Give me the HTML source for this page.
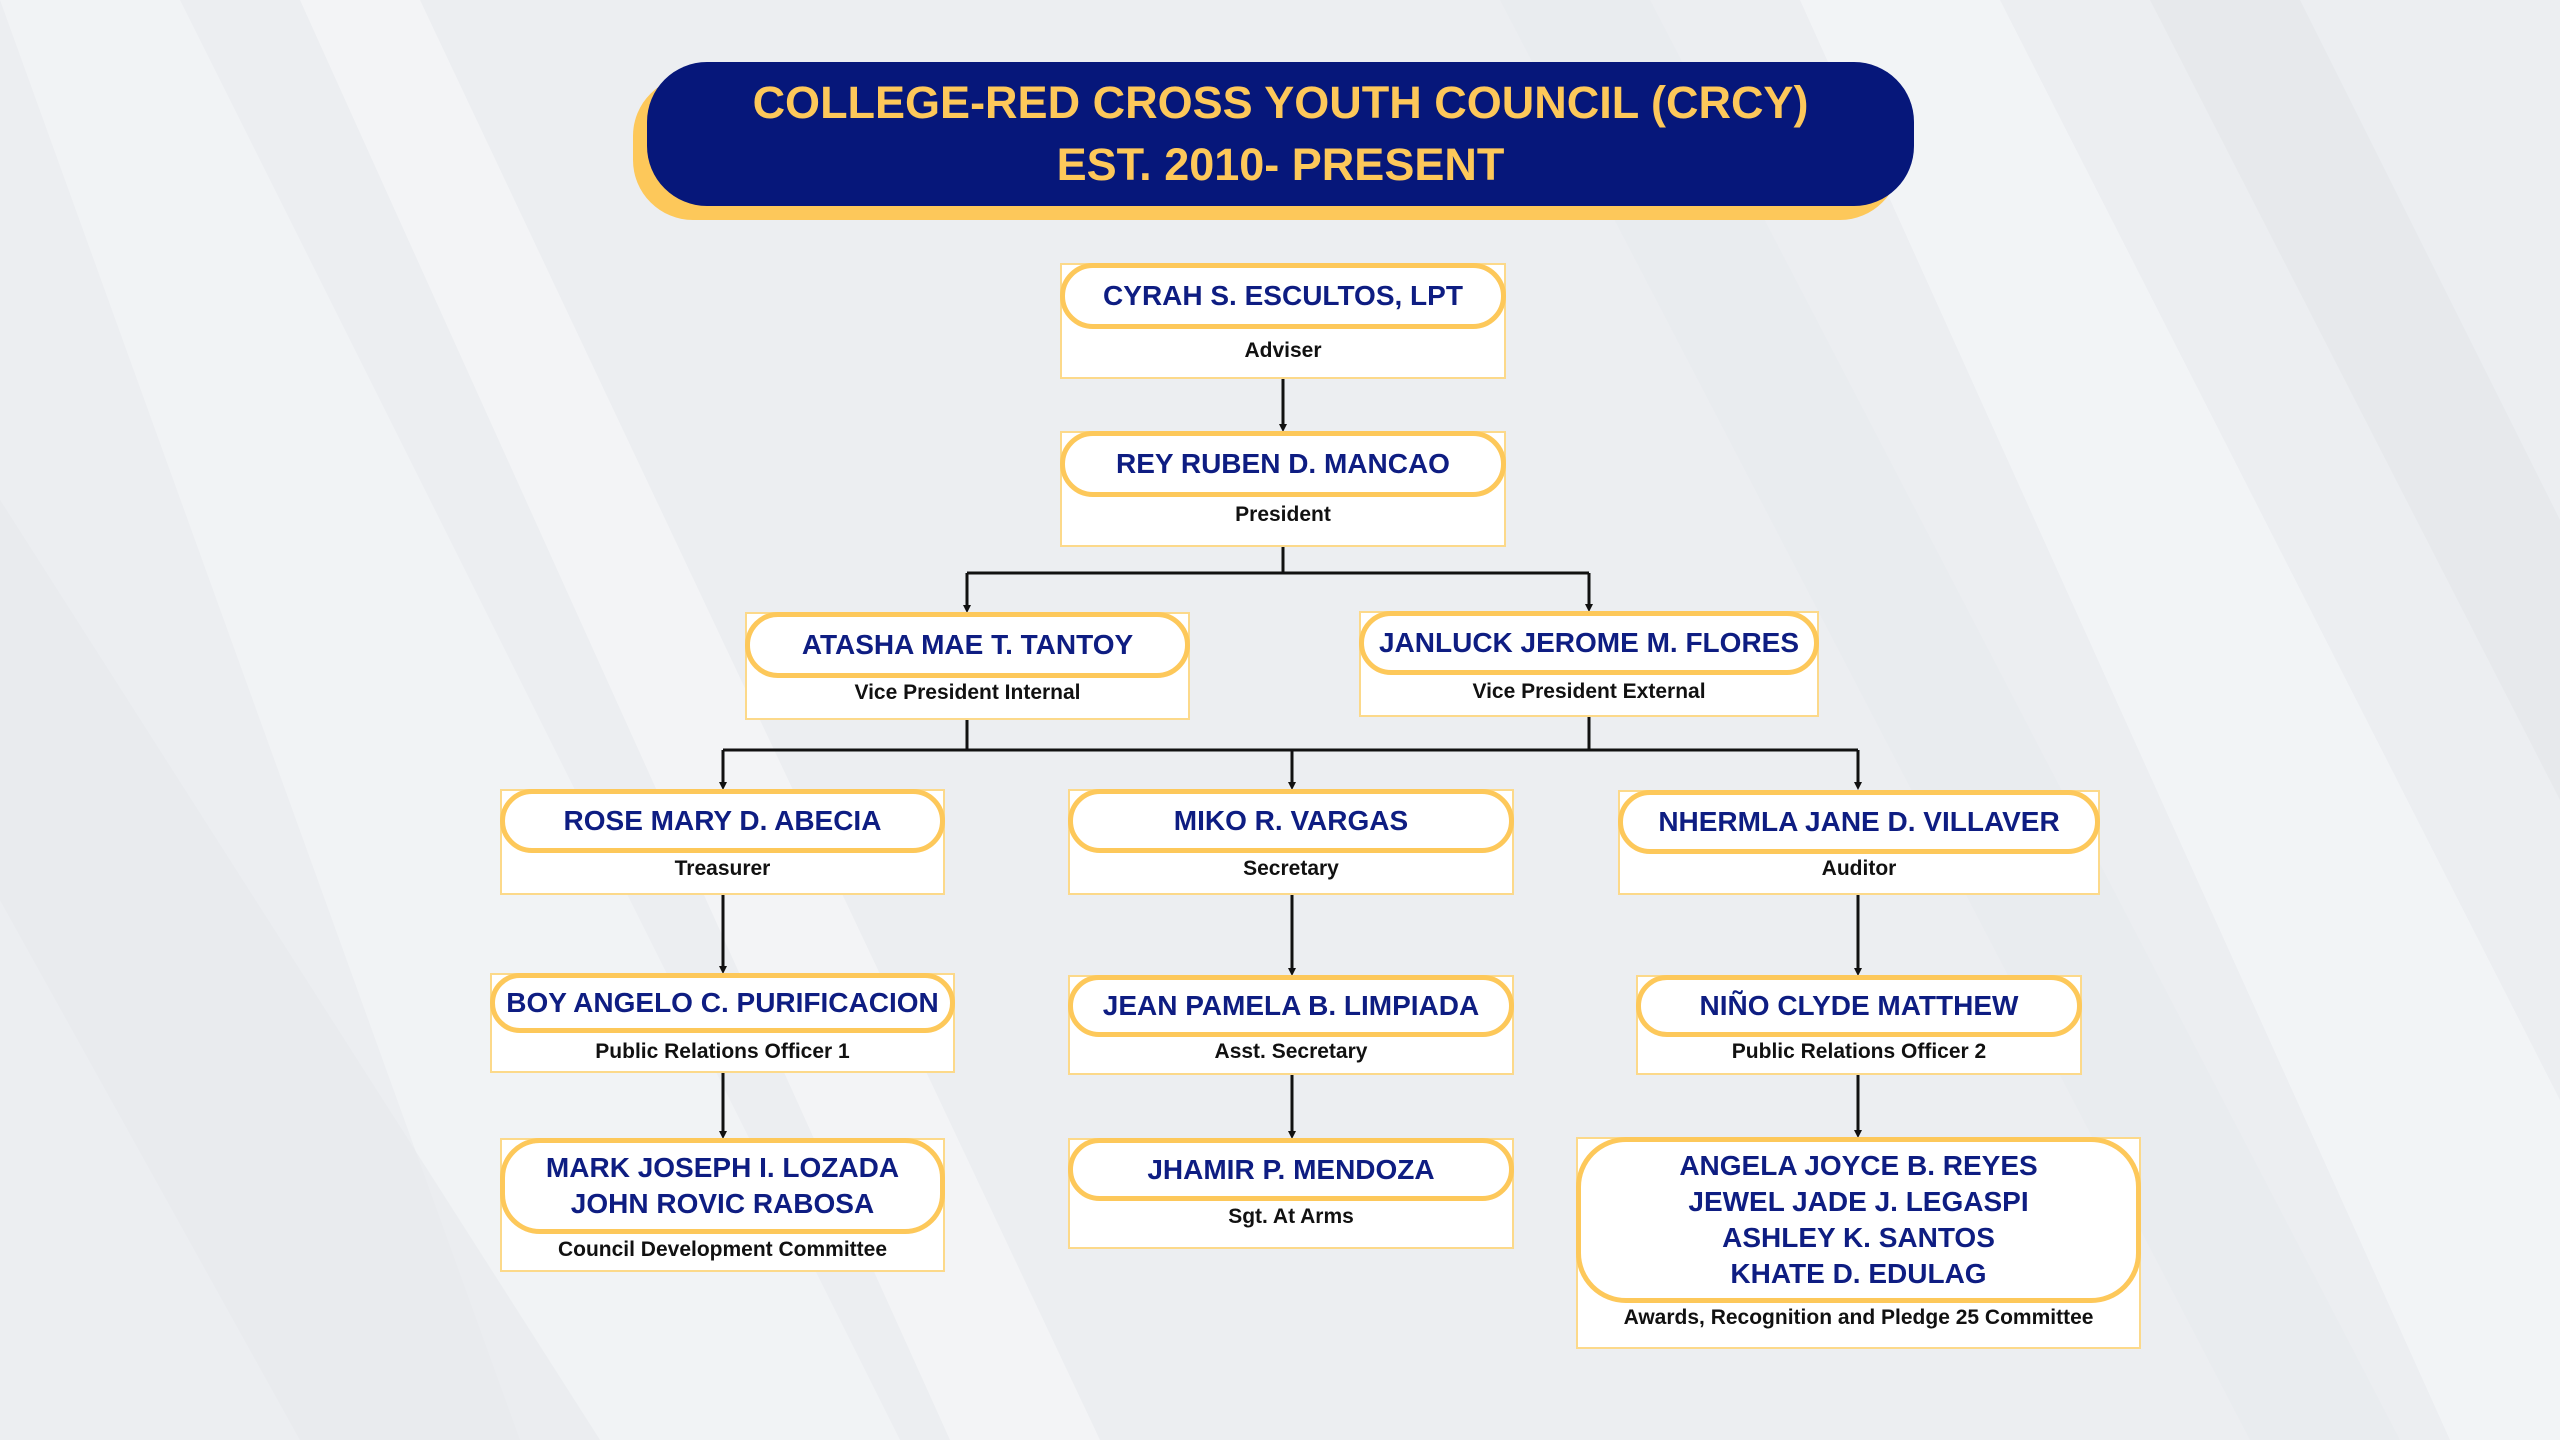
<!DOCTYPE html>
<html><head><meta charset="utf-8"><style>
*{margin:0;padding:0;box-sizing:border-box}
body{width:2560px;height:1440px;position:relative;overflow:hidden;background:#eceef1;font-family:"Liberation Sans",sans-serif}
.bg{position:absolute;left:0;top:0}
.r{position:absolute;background:#fff;border:2px solid #fcd98a}
.p{position:absolute;left:-2px;right:-2px;top:-2px;background:#fff;border:5px solid #fdc85a;border-radius:40px;display:flex;flex-direction:column;align-items:center;justify-content:center;color:#0e1d82;font-weight:bold;font-size:28px;line-height:36px;text-align:center;white-space:nowrap}
.role{position:absolute;left:0;right:0;text-align:center;font-weight:bold;font-size:21px;color:#111;white-space:nowrap;line-height:24px}
.title{position:absolute;left:647px;top:62px;width:1267px;height:144px;background:#06177a;border-radius:60px;color:#fdc85a;font-weight:bold;font-size:45px;text-align:center;line-height:62px;padding-top:10px;box-shadow:-14px 14px 0 #fdc85a}
svg.c{position:absolute;left:0;top:0}
</style></head><body>
<svg class="bg" width="2560" height="1440">
<polygon points="0,0 180,0 900,1440 520,1440" fill="#f3f4f6" opacity=".8"/>
<polygon points="300,0 420,0 1100,1440 950,1440" fill="#f6f7f8" opacity=".7"/>
<polygon points="1800,0 2000,0 2560,1100 2560,1440 2450,1440" fill="#f4f5f7" opacity=".8"/>
<polygon points="2150,0 2300,0 2560,520 2560,800" fill="#e4e6ea" opacity=".6"/>
<polygon points="0,500 0,900 300,1440 600,1440" fill="#e6e8ec" opacity=".5"/>
<polygon points="1500,0 1650,0 2400,1440 2250,1440" fill="#e7e9ed" opacity=".4"/>
</svg>
<div class="title">COLLEGE-RED CROSS YOUTH COUNCIL (CRCY)<br>EST. 2010- PRESENT</div>

<svg class="c" width="2560" height="1440" fill="none" stroke="#111" stroke-width="3">
<defs><marker id="a" markerWidth="8" markerHeight="8" refX="4" refY="4" orient="auto" markerUnits="userSpaceOnUse"><path d="M0,0 L8,4 L0,8z" fill="#111" stroke="none"/></marker></defs>
<line x1="1283" y1="379" x2="1283" y2="428" marker-end="url(#a)"/>
<path d="M1283 547 V573 M967 573 H1589"/>
<line x1="967" y1="573" x2="967" y2="609" marker-end="url(#a)"/>
<line x1="1589" y1="573" x2="1589" y2="608" marker-end="url(#a)"/>
<path d="M967 720 V750 M1589 717 V750 M723 750 H1858"/>
<line x1="723" y1="750" x2="723" y2="786" marker-end="url(#a)"/>
<line x1="1292" y1="750" x2="1292" y2="786" marker-end="url(#a)"/>
<line x1="1858" y1="750" x2="1858" y2="786" marker-end="url(#a)"/>
<line x1="723" y1="895" x2="723" y2="970" marker-end="url(#a)"/>
<line x1="1292" y1="895" x2="1292" y2="972" marker-end="url(#a)"/>
<line x1="1858" y1="895" x2="1858" y2="972" marker-end="url(#a)"/>
<line x1="723" y1="1073" x2="723" y2="1135" marker-end="url(#a)"/>
<line x1="1292" y1="1075" x2="1292" y2="1135" marker-end="url(#a)"/>
<line x1="1858" y1="1075" x2="1858" y2="1134" marker-end="url(#a)"/>
</svg>

<div class="r" style="left:1060px;top:263px;width:446px;height:116px"><div class="p" style="height:66px">CYRAH S. ESCULTOS, LPT</div><div class="role" style="top:74px">Adviser</div></div>
<div class="r" style="left:1060px;top:431px;width:446px;height:116px"><div class="p" style="height:66px">REY RUBEN D. MANCAO</div><div class="role" style="top:70px">President</div></div>
<div class="r" style="left:745px;top:612px;width:445px;height:108px"><div class="p" style="height:66px">ATASHA MAE T. TANTOY</div><div class="role" style="top:67px">Vice President Internal</div></div>
<div class="r" style="left:1359px;top:611px;width:460px;height:106px"><div class="p" style="height:64px">JANLUCK JEROME M. FLORES</div><div class="role" style="top:67px">Vice President External</div></div>
<div class="r" style="left:500px;top:789px;width:445px;height:106px"><div class="p" style="height:64px">ROSE MARY D. ABECIA</div><div class="role" style="top:66px">Treasurer</div></div>
<div class="r" style="left:1068px;top:789px;width:446px;height:106px"><div class="p" style="height:64px">MIKO R. VARGAS</div><div class="role" style="top:66px">Secretary</div></div>
<div class="r" style="left:1618px;top:790px;width:482px;height:105px"><div class="p" style="height:64px">NHERMLA JANE D. VILLAVER</div><div class="role" style="top:65px">Auditor</div></div>
<div class="r" style="left:490px;top:973px;width:465px;height:100px"><div class="p" style="height:60px">BOY ANGELO C. PURIFICACION</div><div class="role" style="top:65px">Public Relations Officer 1</div></div>
<div class="r" style="left:1068px;top:975px;width:446px;height:100px"><div class="p" style="height:62px">JEAN PAMELA B. LIMPIADA</div><div class="role" style="top:63px">Asst. Secretary</div></div>
<div class="r" style="left:1636px;top:975px;width:446px;height:100px"><div class="p" style="height:62px">NIÑO CLYDE MATTHEW</div><div class="role" style="top:63px">Public Relations Officer 2</div></div>
<div class="r" style="left:500px;top:1138px;width:445px;height:134px"><div class="p" style="height:96px">MARK JOSEPH I. LOZADA<br>JOHN ROVIC RABOSA</div><div class="role" style="top:98px">Council Development Committee</div></div>
<div class="r" style="left:1068px;top:1138px;width:446px;height:111px"><div class="p" style="height:63px">JHAMIR P. MENDOZA</div><div class="role" style="top:65px">Sgt. At Arms</div></div>
<div class="r" style="left:1576px;top:1137px;width:565px;height:212px"><div class="p" style="height:166px;border-radius:50px">ANGELA JOYCE B. REYES<br>JEWEL JADE J. LEGASPI<br>ASHLEY K. SANTOS<br>KHATE D. EDULAG</div><div class="role" style="top:167px">Awards, Recognition and Pledge 25 Committee</div></div>
</body></html>
